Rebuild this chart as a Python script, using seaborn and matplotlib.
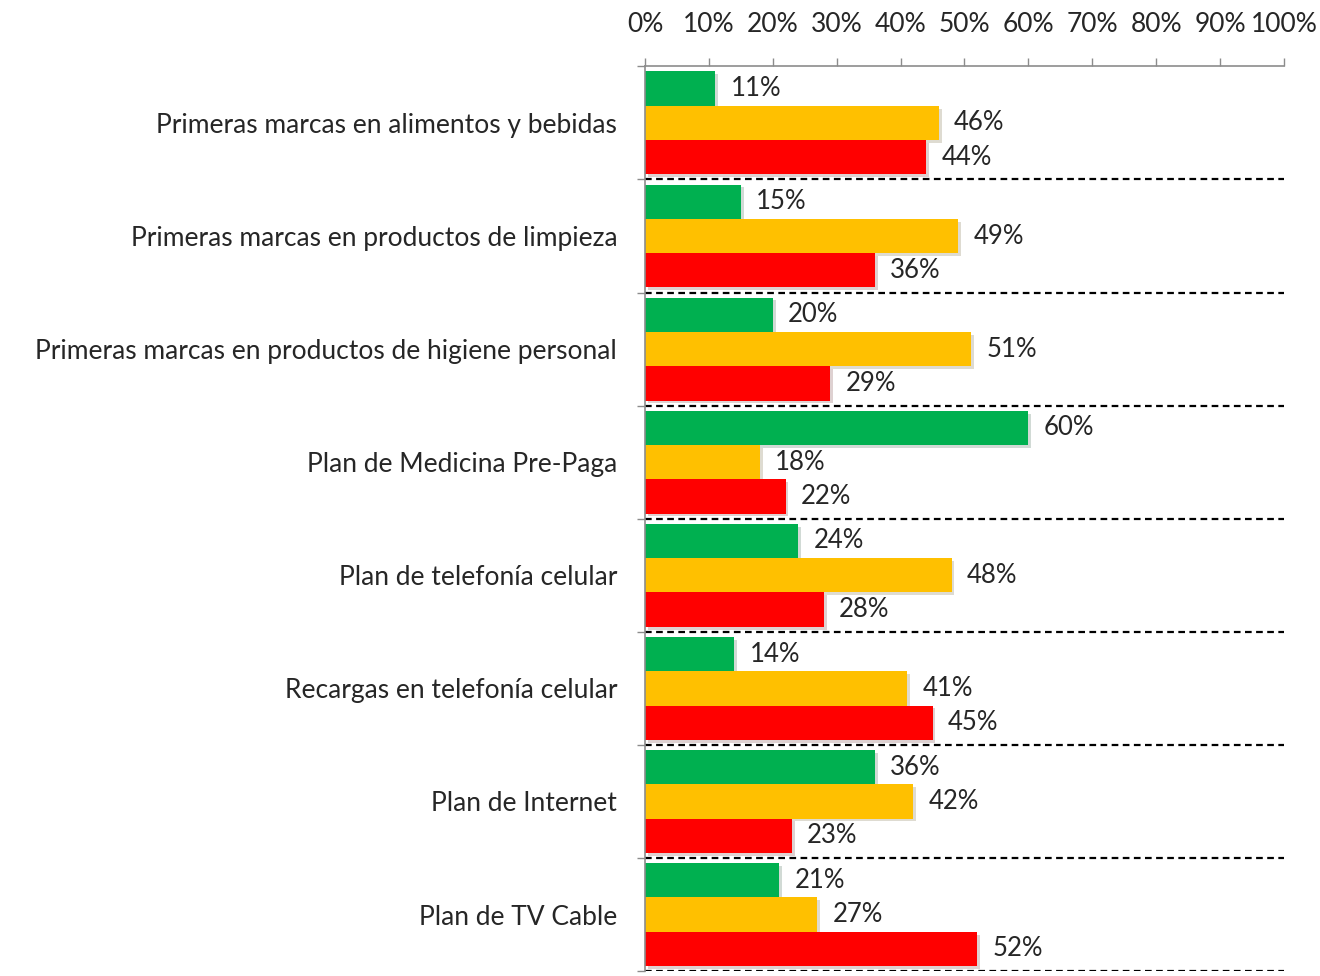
import pandas as pd
import matplotlib.pyplot as plt
import matplotlib.patheffects as pe
from matplotlib.ticker import FixedLocator
import seaborn as sns

sns.set_style('white')
plt.rcParams['font.family'] = ['Lato', 'DejaVu Sans']
plt.rcParams['font.size'] = 19

categorias = [
    'Primeras marcas en alimentos y bebidas',
    'Primeras marcas en productos de limpieza',
    'Primeras marcas en productos de higiene personal',
    'Plan de Medicina Pre-Paga',
    'Plan de telefonía celular',
    'Recargas en telefonía celular',
    'Plan de Internet',
    'Plan de TV Cable',
]
serie_verde = [11, 15, 20, 60, 24, 14, 36, 21]
serie_amarilla = [46, 49, 51, 18, 48, 41, 42, 27]
serie_roja = [44, 36, 29, 22, 28, 45, 23, 52]
series = ['verde', 'amarilla', 'roja']
colores = ['#00B050', '#FFC000', '#FF0000']
ticks_x = list(range(0, 101, 10))

df = pd.DataFrame({
    'categoria': categorias * 3,
    'serie': [s for s in series for _ in categorias],
    'valor': serie_verde + serie_amarilla + serie_roja,
})

fig = plt.figure(figsize=(13.2, 9.76), dpi=100)
ax = fig.add_axes([0.4886, 0.005, 0.4841, 0.927])

sns.barplot(
    data=df, y='categoria', x='valor', hue='serie',
    palette=colores, orient='h', width=0.91, gap=0,
    legend=False, ax=ax, saturation=1, linewidth=0,
)

for bars in ax.containers:
    for b in bars:
        b.set_path_effects([pe.SimplePatchShadow(offset=(2, -2), alpha=0.18), pe.Normal()])
    ax.bar_label(bars, fmt='%.0f%%', padding=11, fontsize=18.5)

ax.set_xlim(0, 100)
ax.set_ylim(len(categorias) - 0.5, -0.5)
ax.xaxis.tick_top()
ax.set_xticks(ticks_x)
ax.set_xticklabels([f'{t}%' for t in ticks_x])
ax.tick_params(axis='x', direction='out', length=6, width=1, color='#8c8c8c',
               pad=15, top=True, bottom=False, labelsize=19)
ax.set_xlabel('')
ax.set_ylabel('')

ax.tick_params(axis='y', which='major', length=0, pad=20, labelsize=19)
ax.yaxis.set_minor_locator(FixedLocator([i - 0.5 for i in range(len(categorias) + 1)]))
ax.tick_params(axis='y', which='minor', left=True, length=6, width=1, color='#8c8c8c')

for i in range(len(categorias)):
    ax.axhline(i + 0.5, color='black', linestyle=(0, (3, 2)), linewidth=1.6, zorder=0)

for s in ['right', 'bottom']:
    ax.spines[s].set_visible(False)
for s in ['left', 'top']:
    ax.spines[s].set_color('#8c8c8c')
    ax.spines[s].set_linewidth(1.2)

plt.savefig('out.png', dpi=100)
